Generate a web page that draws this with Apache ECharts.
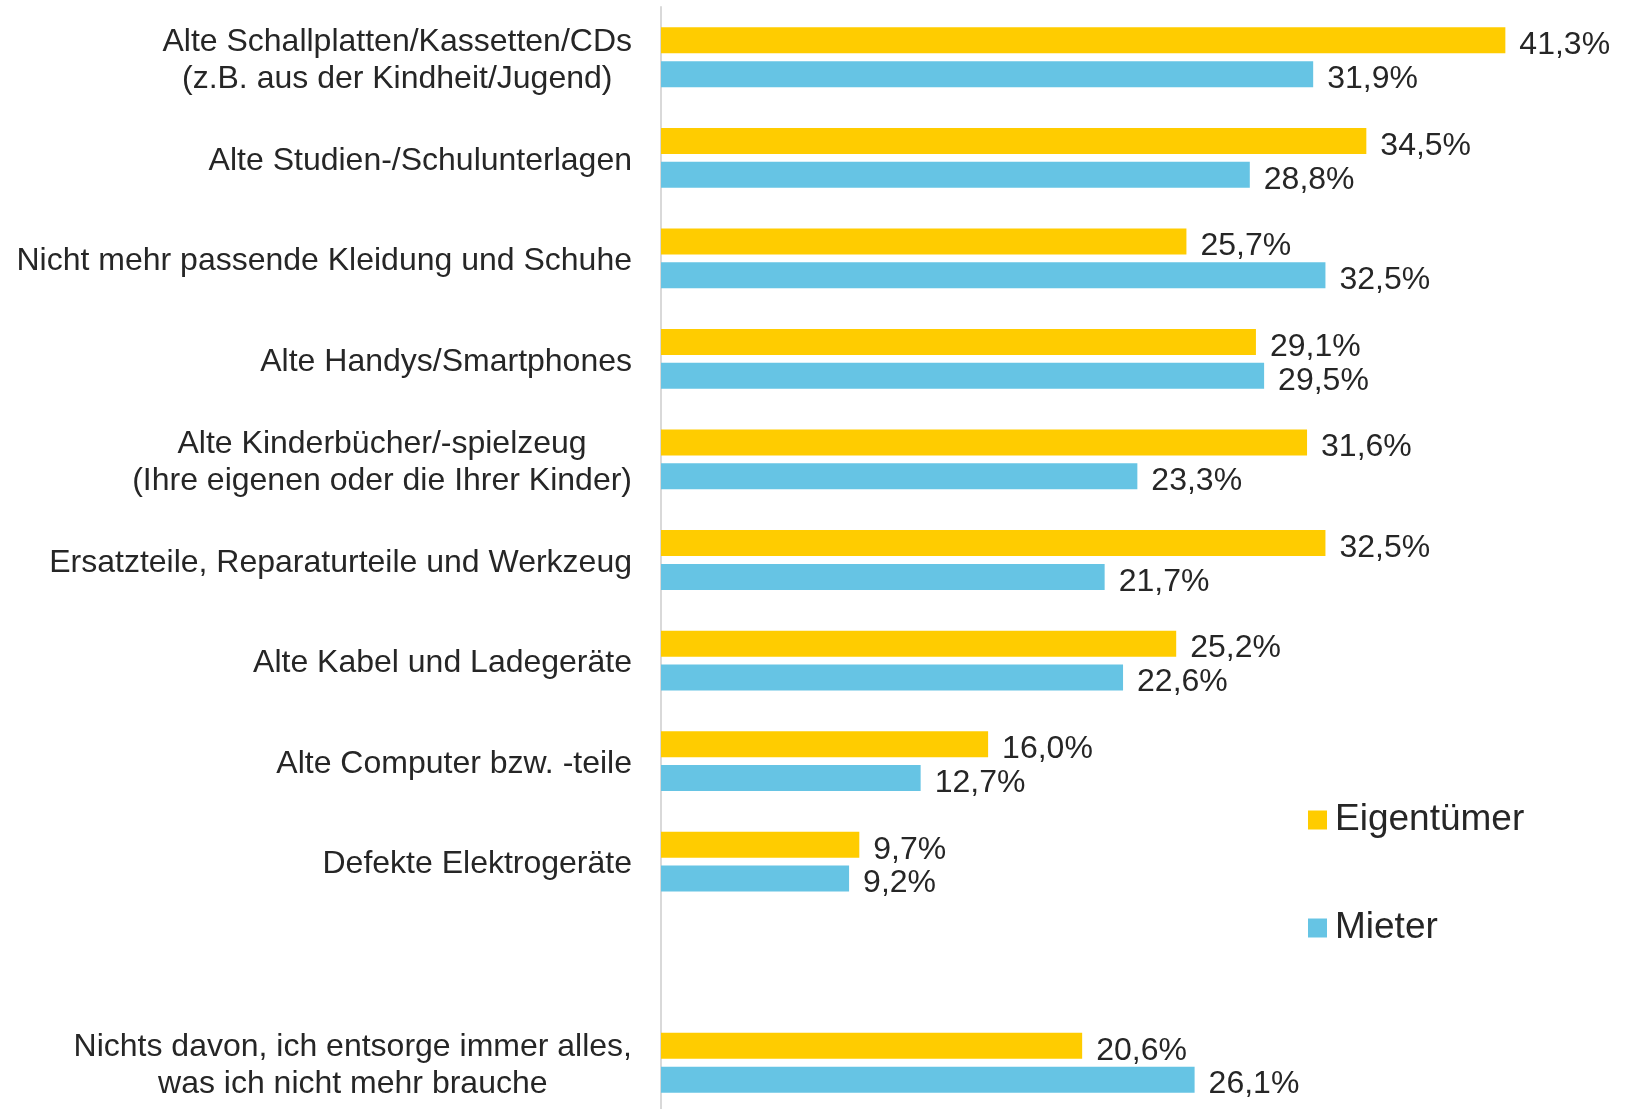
<!DOCTYPE html>
<html>
<head>
<meta charset="utf-8">
<title>Eigentümer / Mieter</title>
<script src="https://cdn.jsdelivr.net/npm/echarts@6/dist/echarts.min.js"></script>
<style>
  html, body { margin: 0; padding: 0; background: #fff; }
  #chart { width: 1627px; height: 1109px; }
</style>
</head>
<body>
<div id="chart"></div>
<script>
  // Kategorien (leerer Eintrag = Abstand vor "Nichts davon")
  var categories = [
    'Alte Schallplatten/Kassetten/CDs\n(z.B. aus der Kindheit/Jugend)',
    'Alte Studien-/Schulunterlagen',
    'Nicht mehr passende Kleidung und Schuhe',
    'Alte Handys/Smartphones',
    'Alte Kinderbücher/-spielzeug\n(Ihre eigenen oder die Ihrer Kinder)',
    'Ersatzteile, Reparaturteile und Werkzeug',
    'Alte Kabel und Ladegeräte',
    'Alte Computer bzw. -teile',
    'Defekte Elektrogeräte',
    '',
    'Nichts davon, ich entsorge immer alles,\nwas ich nicht mehr brauche'
  ];
  var eigentuemer = [41.3, 34.5, 25.7, 29.1, 31.6, 32.5, 25.2, 16.0, 9.7, null, 20.6];
  var mieter      = [31.9, 28.8, 32.5, 29.5, 23.3, 21.7, 22.6, 12.7, 9.2, null, 26.1];

  var FONT = "'Liberation Sans', Arial, sans-serif";
  var TEXT = '#262626';

  function pct(p) {
    return p.value.toFixed(1).replace('.', ',') + '%';
  }

  // kleine Leerzeile oben, damit der Text ein paar Pixel tiefer sitzt;
  // zweizeilige Beschriftungen sind im Block zentriert
  function catLabel(v) {
    if (!v) return '';
    return '{s| }\n' + v.split('\n').map(function (s) { return '{c|' + s + '}'; }).join('\n');
  }

  var chart = echarts.init(document.getElementById('chart'));
  var option = {
    animation: false,
    backgroundColor: '#fff',
    textStyle: { fontFamily: FONT },
    legend: [
      {
        data: ['Eigentümer'],
        left: 1303, top: 795,
        icon: 'rect', itemWidth: 19, itemHeight: 19,
        textStyle: { fontFamily: FONT, fontSize: 37, color: TEXT, lineHeight: 40, padding: [0, 0, 0, 3] }
      },
      {
        data: ['Mieter'],
        left: 1303, top: 903,
        icon: 'rect', itemWidth: 19, itemHeight: 19,
        textStyle: { fontFamily: FONT, fontSize: 37, color: TEXT, lineHeight: 40, padding: [0, 0, 0, 3] }
      }
    ],
    // letzte Kategorie reicht über den unteren Rand hinaus
    grid: { left: 661, width: 920, top: 7, height: 1106, outerBoundsMode: 'none' },
    xAxis: {
      type: 'value',
      min: 0,
      max: 45,
      show: false
    },
    yAxis: {
      type: 'category',
      inverse: true,
      data: categories,
      axisLine: { show: true, lineStyle: { color: '#d9d9d9', width: 2 } },
      axisTick: { show: false },
      axisLabel: {
        margin: 29,
        fontFamily: FONT,
        fontSize: 32,
        color: TEXT,
        align: 'right',
        formatter: catLabel,
        rich: {
          s: { fontSize: 1, lineHeight: 6 },
          c: { fontFamily: FONT, fontSize: 32, color: TEXT, lineHeight: 37, align: 'center' }
        }
      }
    },
    series: [
      {
        name: 'Eigentümer',
        type: 'bar',
        data: eigentuemer,
        barWidth: 26,
        barGap: '30%',
        itemStyle: { color: '#FFCC00' },
        label: {
          show: true, position: 'right', distance: 14, offset: [0, 5],
          formatter: pct, fontFamily: FONT, fontSize: 32, color: TEXT
        }
      },
      {
        name: 'Mieter',
        type: 'bar',
        data: mieter,
        barWidth: 26,
        barGap: '30%',
        itemStyle: { color: '#66C4E4' },
        label: {
          show: true, position: 'right', distance: 14, offset: [0, 5],
          formatter: pct, fontFamily: FONT, fontSize: 32, color: TEXT
        }
      }
    ]
  };
  chart.setOption(option);
</script>
</body>
</html>
